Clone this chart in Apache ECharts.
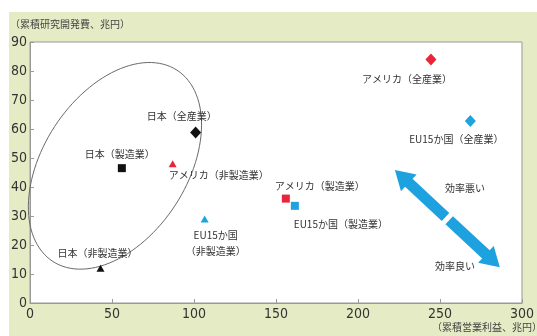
<!DOCTYPE html>
<html>
<head>
<meta charset="utf-8">
<script src="https://cdn.jsdelivr.net/npm/echarts@6/dist/echarts.min.js"></script>
<style>
  html, body { margin: 0; padding: 0; background: #ffffff; }
  #chart { width: 537px; height: 336px; }
</style>
</head>
<body>
<div id="chart"></div>
<script>
// Cumulative operating profit (x, trillion yen) vs cumulative R&D spending (y, trillion yen)
const pointNames = [
  '日本（全産業）', '日本（製造業）', '日本（非製造業）',
  'アメリカ（全産業）', 'アメリカ（製造業）', 'アメリカ（非製造業）',
  'EU15か国（全産業）', 'EU15か国（製造業）', 'EU15か国\n（非製造業）'
];
const profitValues = [101, 56, 43, 244.5, 156, 87, 268.5, 161.5, 106.5];
const rndValues    = [58.8, 46.5, 12, 84, 36, 48, 62.8, 33.5, 29];

const xTicks = [0, 50, 100, 150, 200, 250, 300];
const yTicks = [0, 10, 20, 30, 40, 50, 60, 70, 80, 90];

// Marker look per point: industry → shape, region → colour
const symbolFor = ['diamond', 'rect', 'triangle', 'diamond', 'rect', 'triangle', 'diamond', 'rect', 'triangle'];
const colorFor  = ['#111111', '#111111', '#111111', '#e8253a', '#e8253a', '#e8253a', '#1fa3de', '#1fa3de', '#1fa3de'];
const sizeFor   = { diamond: [11, 12], rect: 8, triangle: [8, 7] };
// Label offsets (px) from each marker centre
const labelShift = [[-14, -16], [-2, -14], [-3, -15], [-24, 20], [34, -12], [46, 11], [-14, 18], [46, 18], [11, 24]];

const chart = echarts.init(document.getElementById('chart'), null, { renderer: 'canvas' });

const axisFont = "'Liberation Sans Narrow', 'DejaVu Sans Condensed', 'Liberation Sans', sans-serif";
const jpFont = "'Noto Sans CJK JP', sans-serif";

const pointData = pointNames.map((n, i) => ({
  name: n,
  value: [profitValues[i], rndValues[i]],
  symbol: symbolFor[i],
  symbolSize: sizeFor[symbolFor[i]],
  itemStyle: { color: colorFor[i], opacity: 1 },
  label: { offset: labelShift[i] }
}));

// Circle round the Japanese points (centre in data units, radii in px)
const ringCentre = [51.8, 47.3];
// Efficiency arrow ends (data units)
const arrowEnds = [[222.5, 45.9], [286.5, 12.3]];

function ringItem(params, api) {
  const c = api.coord(ringCentre);
  const a = 114, b = 72, th = 57 * Math.PI / 180;
  const pts = [];
  for (let k = 0; k <= 120; k++) {
    const t = k / 120 * Math.PI * 2;
    const ex = a * Math.cos(t), ey = b * Math.sin(t);
    pts.push([c[0] + ex * Math.cos(th) - ey * Math.sin(th), c[1] - (ex * Math.sin(th) + ey * Math.cos(th))]);
  }
  return { type: 'polygon', shape: { points: pts }, style: { fill: 'none', stroke: '#6a6a6a', lineWidth: 1 }, silent: true };
}

function arrowItem(params, api) {
  const p1 = api.coord(arrowEnds[0]);
  const p2 = api.coord(arrowEnds[1]);
  const dx = p2[0] - p1[0], dy = p2[1] - p1[1];
  const len = Math.hypot(dx, dy);
  const ux = dx / len, uy = dy / len;
  const nx = -uy, ny = ux;
  const shaft = 5.5, head = 11.5, headLen = 19, gap = 2.5;
  const mid = [(p1[0] + p2[0]) / 2, (p1[1] + p2[1]) / 2];
  function half(tip, dir) {
    // dir: unit vector from tip toward middle
    const bx = tip[0] + dir[0] * headLen, by = tip[1] + dir[1] * headLen;
    const ex = mid[0] - dir[0] * gap, ey = mid[1] - dir[1] * gap;
    return [
      tip,
      [bx + nx * head, by + ny * head],
      [bx + nx * shaft, by + ny * shaft],
      [ex + nx * shaft, ey + ny * shaft],
      [ex - nx * shaft, ey - ny * shaft],
      [bx - nx * shaft, by - ny * shaft],
      [bx - nx * head, by - ny * head]
    ];
  }
  const style = { fill: '#1ea2df', stroke: null };
  return {
    type: 'group',
    children: [
      { type: 'polygon', shape: { points: half(p1, [ux, uy]) }, style },
      { type: 'polygon', shape: { points: half(p2, [-ux, -uy]) }, style }
    ]
  };
}

chart.setOption({
  animation: false,
  backgroundColor: 'transparent',
  graphic: [
    { type: 'rect', z: -10, shape: { x: 9, y: 12, width: 528, height: 324 }, style: { fill: '#e5ecc5' }, silent: true },
    { type: 'text', left: 10, top: 19, style: { text: '（累積研究開発費、兆円）', font: "10px 'Noto Sans CJK JP', sans-serif", fill: '#444' } },
    { type: 'text', left: 432, top: 322, style: { text: '（累積営業利益、兆円）', font: "10px 'Noto Sans CJK JP', sans-serif", fill: '#444' } },
    { type: 'text', left: 445, top: 183, style: { text: '効率悪い', font: "10px 'Noto Sans CJK JP', sans-serif", fill: '#333' } },
    { type: 'text', left: 435, top: 261, style: { text: '効率良い', font: "10px 'Noto Sans CJK JP', sans-serif", fill: '#333' } }
  ],
  grid: {
    left: 30, top: 42, right: 9, bottom: 33,
    show: true, backgroundColor: '#ffffff', borderColor: '#9a9a9a', borderWidth: 1
  },
  xAxis: {
    type: 'value', min: xTicks[0], max: xTicks[xTicks.length - 1], interval: 50,
    splitLine: { show: false },
    axisLine: { lineStyle: { color: '#9a9a9a' } },
    axisTick: { inside: true, length: 4, lineStyle: { color: '#9a9a9a' } },
    axisLabel: { color: '#333', fontSize: 14, fontFamily: axisFont, margin: 4 }
  },
  yAxis: {
    type: 'value', min: yTicks[0], max: yTicks[yTicks.length - 1], interval: 10,
    splitLine: { show: false },
    axisLine: { show: true, lineStyle: { color: '#9a9a9a' } },
    axisTick: { show: true, inside: true, length: 4, lineStyle: { color: '#9a9a9a' } },
    axisLabel: { color: '#333', fontSize: 14, fontFamily: axisFont, margin: 3 }
  },
  series: [
    {
      type: 'custom', renderItem: ringItem, data: [ringCentre], z: 1, silent: true, clip: false
    },
    {
      type: 'custom', renderItem: arrowItem, data: [arrowEnds[0]], z: 1, silent: true, clip: false
    },
    {
      type: 'scatter', z: 3,
      data: pointData,
      label: {
        show: true, position: 'inside',
        formatter: p => p.name,
        color: '#333', fontSize: 10, fontFamily: jpFont, lineHeight: 16, align: 'center'
      }
    }
  ]
});
</script>
</body>
</html>
